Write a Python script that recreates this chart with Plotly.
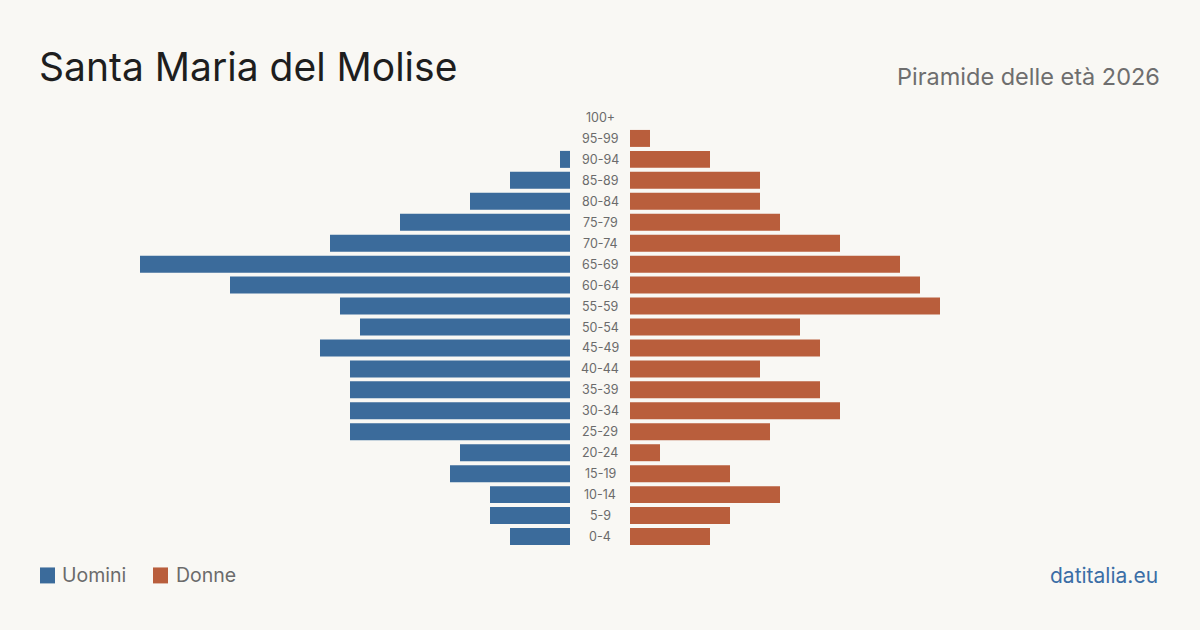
import plotly.graph_objects as go

ages = ["0-4", "5-9", "10-14", "15-19", "20-24", "25-29", "30-34", "35-39", "40-44",
        "45-49", "50-54", "55-59", "60-64", "65-69", "70-74", "75-79", "80-84",
        "85-89", "90-94", "95-99", "100+"]
uomini = [6, 8, 8, 12, 11, 22, 22, 22, 22, 25, 21, 23, 34, 43, 24, 17, 10, 6, 1, 0, 0]
donne = [8, 10, 15, 10, 3, 14, 21, 19, 13, 19, 17, 31, 29, 27, 21, 15, 13, 13, 8, 2, 0]

BLUE = "#3b6b9b"
ORANGE = "#b95e3c"
BG = "#f9f8f4"
FONT = "Inter, Roboto, sans-serif"

W, H = 1200, 630
T, B = 106.5, 82.5
PH = H - T - B


def py(px):
    # convert page pixel y to paper coordinate
    return (H - B - px) / PH


fig = go.Figure()
fig.add_trace(go.Bar(y=ages, x=uomini, orientation="h", marker_color=BLUE,
                     marker_line_width=0,
                     xaxis="x", yaxis="y", name="Uomini", showlegend=False,
                     hoverinfo="x+y"))
fig.add_trace(go.Bar(y=ages, x=donne, orientation="h", marker_color=ORANGE,
                     marker_line_width=0,
                     xaxis="x2", yaxis="y", name="Donne", showlegend=False,
                     hoverinfo="x+y"))

annotations = []
for a in ages:
    annotations.append(dict(x=600 / W, xref="paper", y=a, yref="y", text=a,
                            showarrow=False, xanchor="center", yanchor="middle",
                            font=dict(family=FONT, size=12.5, color="#6b6b6b")))

annotations += [
    dict(x=40 / W, y=py(66), xref="paper", yref="paper", text="Santa Maria del Molise",
         showarrow=False, xanchor="left", yanchor="middle", xshift=-3,
         font=dict(family=FONT, size=39, color="#1e1e1e")),
    dict(x=1159 / W, y=py(76), xref="paper", yref="paper", text="Piramide delle età 2026",
         showarrow=False, xanchor="right", yanchor="middle", xshift=3,
         font=dict(family=FONT, size=23.5, color="#6e6e6e")),
    dict(x=63 / W, y=py(576), xref="paper", yref="paper", text="Uomini",
         showarrow=False, xanchor="left", yanchor="middle", xshift=-3,
         font=dict(family=FONT, size=19.5, color="#6b6b6b")),
    dict(x=177 / W, y=py(576), xref="paper", yref="paper", text="Donne",
         showarrow=False, xanchor="left", yanchor="middle", xshift=-3,
         font=dict(family=FONT, size=19.5, color="#6b6b6b")),
    dict(x=1157 / W, y=py(576), xref="paper", yref="paper", text="datitalia.eu",
         showarrow=False, xanchor="right", yanchor="middle", xshift=3,
         font=dict(family=FONT, size=21, color="#3b6ea6")),
]

shapes = [
    dict(type="rect", xref="paper", yref="paper", x0=40 / W, x1=55 / W,
         y0=py(584), y1=py(568), fillcolor=BLUE, line_width=0),
    dict(type="rect", xref="paper", yref="paper", x0=153 / W, x1=168 / W,
         y0=py(584), y1=py(568), fillcolor=ORANGE, line_width=0),
]

fig.update_layout(
    width=W, height=H,
    margin=dict(l=0, r=0, t=T, b=B),
    paper_bgcolor=BG, plot_bgcolor=BG,
    bargap=0.19,
    showlegend=False,
    xaxis=dict(domain=[0, 570 / W], range=[57, 0], visible=False, fixedrange=True),
    xaxis2=dict(domain=[630 / W, 1], range=[0, 57], visible=False, fixedrange=True),
    yaxis=dict(categoryorder="array", categoryarray=ages, range=[-0.5, 20.5],
               visible=False, fixedrange=True),
    annotations=annotations,
    shapes=shapes,
)

fig.write_html("out.html")
